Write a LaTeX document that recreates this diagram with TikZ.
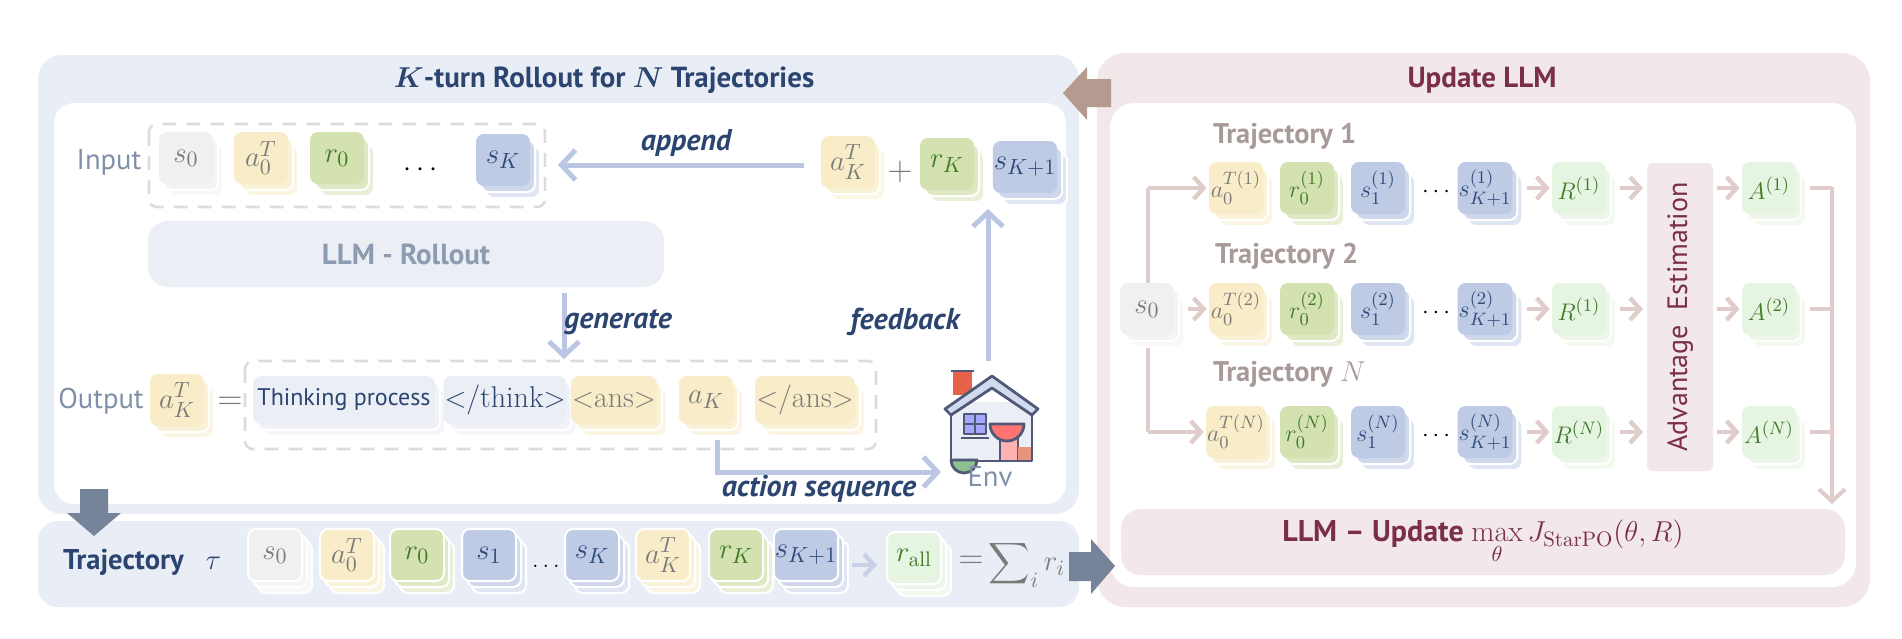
\documentclass[tikz,border=0pt]{standalone}
\usepackage{amsmath,bm}
\usepackage{fontspec}
\setsansfont{PT Sans}
\usetikzlibrary{calc,arrows.meta,shapes.geometric}
\definecolor{lpanel}{HTML}{E9EDF5}
\definecolor{rpanel}{HTML}{F2E8E9}
\definecolor{dblue}{HTML}{2B4570}
\definecolor{glabel}{HTML}{8090A8}
\definecolor{cy}{HTML}{F8EDC8}
\definecolor{cg}{HTML}{D3E2B0}
\definecolor{cb}{HTML}{BFCBE5}
\definecolor{cgr}{HTML}{F0F0F0}
\definecolor{clg}{HTML}{E6F4E2}
\definecolor{cbox}{HTML}{EBEEF5}
\definecolor{maroon}{HTML}{7A2E48}
\definecolor{tgray}{HTML}{A89A98}
\definecolor{rarrow}{HTML}{E0CCCA}
\definecolor{larrow}{HTML}{BAC6E2}
\definecolor{garrow}{HTML}{76849A}
\definecolor{barrow}{HTML}{B59A8F}
\definecolor{gtext}{HTML}{7A7A7A}
\definecolor{gntext}{HTML}{3F7A25}
\definecolor{bltext}{HTML}{2F4A7A}
\definecolor{hline}{HTML}{505A78}
\tikzset{
  tile/.style={rounded corners=4pt,minimum width=27pt,minimum height=26pt,inner sep=0.5pt,font=\fontsize{15}{17}\selectfont},
  rtile/.style={tile,font=\fontsize{13}{15}\selectfont},
  lab/.style={font=\sffamily\fontsize{14.3}{17}\selectfont},
  itl/.style={font=\sffamily\itshape\bfseries\fontsize{15}{18}\selectfont,text=dblue},
  larr/.style={draw=larrow,line width=2.5pt,-{Straight Barb[length=7pt,width=15pt,line width=2.5pt]}},
  rarr/.style={draw=rarrow,line width=2.2pt,-{Straight Barb[length=5pt,width=11pt,line width=2.2pt]}},
  rline/.style={draw=rarrow,line width=2pt},
  dashbox/.style={draw=lpanel!85!gray,line width=1.3pt,dash pattern=on 7pt off 5pt,rounded corners=4pt},
  hs/.style={draw=hline,line width=1.4pt,line join=round},
}
% #1 opts, #2 name, #3 position, #4 colour, #5 text
\newcommand\stk[5][]{%
  \node[tile,#1,fill=#4!50,draw=white,line width=1pt] at ($(#3)+(10,12)$) {\phantom{#5}};
  \node[tile,#1,fill=#4!75,draw=white,line width=1pt] at ($(#3)+(5,6)$) {\phantom{#5}};
  \node[tile,#1,fill=#4] (#2) at (#3) {#5};}
\begin{document}
\begin{tikzpicture}[x=0.5pt,y=-0.5pt]
\useasboundingbox (0,0) rectangle (1902,638);
% panels
\fill[lpanel,rounded corners=12pt] (38,55) rectangle (1079,514);
\fill[white,rounded corners=10pt] (54,103) rectangle (1066,504);
\fill[lpanel,rounded corners=10pt] (38,521) rectangle (1079,607);
\fill[rpanel,rounded corners=14pt] (1097,53) rectangle (1870,607);
\fill[white,rounded corners=12pt] (1110,103) rectangle (1856,587);
\node[font=\sffamily\bfseries\fontsize{14.5}{17}\selectfont,text=dblue] (t1) at (604,80) {$\bm{K}$-turn Rollout for $\bm{N}$ Trajectories};
\node[font=\sffamily\bfseries\fontsize{14.5}{17}\selectfont,text=maroon] (t2) at (1482,80) {Update LLM};
% block arrows
\fill[barrow] (1063,93) -- (1087,67) -- (1087,79) -- (1111,79) -- (1111,107) -- (1087,107) -- (1087,120) -- cycle;
\fill[garrow] (80,489) -- (108,489) -- (108,513) -- (121,513) -- (94,536) -- (67,513) -- (80,513) -- cycle;
\fill[garrow] (1069,552) -- (1091,552) -- (1091,539) -- (1115,566) -- (1091,594) -- (1091,581) -- (1069,581) -- cycle;
% input row
\node[lab,text=glabel] (inl) at (109,162) {Input};
\draw[dashbox] (149,124) rectangle (545,207);
\stk[text=gtext]{is0}{186,158}{cgr}{$s_0$}
\stk[text=gtext]{ia0}{261,158}{cy}{$a_0^T$}
\stk[text=gntext]{ir0}{337,158}{cg}{$r_0$}
\node[font=\fontsize{14}{16}\selectfont] (idots) at (423,170) {$\cdots$};
\stk[text=bltext]{isk}{503,160}{cb}{$s_K$}
\stk[text=gtext]{aKT}{848,162}{cy}{$a_K^T$}
\node[font=\fontsize{16}{18}\selectfont,text=gtext] (plus) at (900,172) {$+$};
\stk[text=gntext]{rK}{947,164}{cg}{$r_K$}
\stk[text=bltext]{sK1}{1025,167}{cb}{$s_{K+1}$}
\draw[larr] (804,165) coordinate (ap1) -- (558,165) coordinate (ap2);
\node[itl] (appl) at (686,143) {append};
% LLM rollout
\node[fill=cbox,rounded corners=10pt,minimum width=258pt,minimum height=33pt,font=\sffamily\bfseries\fontsize{14.5}{17}\selectfont,text=glabel!90] (roll) at (406,254) {LLM - Rollout};
\draw[larr] (564,293) coordinate (g1) -- (564,359) coordinate (g2);
\node[itl] (genl) at (618,322) {generate};
% output row
\node[lab,text=glabel] (outl) at (101,401) {Output};
\stk[text=gtext]{oaK}{177,400}{cy}{$a_K^T$}
\node[font=\fontsize{16}{18}\selectfont,text=gtext] (eq) at (230,403) {$=$};
\draw[dashbox] (245,361) rectangle (876,449);
\stk[text=dblue,font=\sffamily\fontsize{12}{14}\selectfont,minimum width=91pt,minimum height=24pt]{think}{344,400}{cbox}{Thinking process}
\stk[text=dblue,minimum width=52pt,minimum height=24pt]{ethink}{505,400}{cbox}{$<$/think$>$}
\stk[text=gtext,minimum width=38pt,minimum height=24pt]{ans}{614,400}{cy}{$<$ans$>$}
\stk[text=gtext,minimum height=24pt]{aK}{706,400}{cy}{$a_K$}
\stk[text=gtext,minimum width=50pt,minimum height=24pt]{eans}{805,400}{cy}{$<$/ans$>$}
% env house
\fill[red!55!brown!80] (953,371) rectangle (972,395);
\draw[hs] (951,371) -- (974,371);
\fill[cbox] (951,402) rectangle (1032,461);
\draw[hs] (951,410) -- (951,461) -- (1032,461) -- (1032,410);
\draw[hs,fill=cb!70] (945,409) -- (992,376) -- (1038,409) -- (1032,415) -- (992,388) -- (951,415) -- cycle;
\draw[hs,fill=blue!35] (964,414) rectangle (986,434);
\draw[hs] (975,414) -- (975,434) (964,424) -- (986,424);
\draw[hs] (961,438) -- (989,438);
\draw[hs,fill=red!30] (1000,429) rectangle (1018,461);
\draw[hs,fill=red!55] (990,424) arc (180:0:17) -- cycle;
\fill[red!40!brown!60] (1018,447) rectangle (1031,460);
\draw[hs,fill=green!45!black!45] (951,460) arc (180:0:13) -- cycle;
\node[lab,text=glabel] (env) at (990,477) {Env};
\draw[larr] (988,361) coordinate (f1) -- (988,209) coordinate (f2);
\node[itl] (fbl) at (905,322) {feedback};
\draw[larr] (717,440) coordinate (as1) -- (717,472) -- (941,472) coordinate (as2);
\node[itl] (asl) at (819,489) {action sequence};
% bottom trajectory row
\node[font=\sffamily\bfseries\fontsize{14.3}{17}\selectfont,text=dblue,anchor=west] (trl) at (56,562) {Trajectory~~~$\tau$};
\tikzset{bt/.style={draw=white,line width=1pt}}
\stk[bt,text=gtext]{b0}{275,555}{cgr}{$s_0$}
\stk[bt,text=gtext]{b1}{347,555}{cy}{$a_0^T$}
\stk[bt,text=gntext]{b2}{417,555}{cg}{$r_0$}
\stk[bt,text=bltext]{b3}{489,555}{cb}{$s_1$}
\node[font=\fontsize{12}{14}\selectfont] (bd) at (546,566) {$\ldots$};
\stk[bt,text=bltext]{b4}{592,555}{cb}{$s_K$}
\stk[bt,text=gtext]{b5}{663,555}{cy}{$a_K^T$}
\stk[bt,text=gntext]{b6}{736,555}{cg}{$r_K$}
\stk[bt,text=bltext]{b7}{806,555}{cb}{$s_{K+1}$}
\draw[draw=larrow!80,line width=2.2pt,-{Straight Barb[length=5pt,width=11pt,line width=2.2pt]}] (852,565) coordinate (ra1) -- (877,565) coordinate (ra2);
\stk[bt,text=gntext]{ball}{914,558}{clg}{$r_{\mathrm{all}}$}
\node[font=\fontsize{16}{18}\selectfont,text=gtext] (beq) at (971,562) {$=$};
\node[font=\fontsize{15}{17}\selectfont,text=gtext] (sum) at (1027,564) {$\displaystyle\sum\nolimits_i r_i$};
% right panel
\tikzset{tl/.style={font=\sffamily\bfseries\fontsize{14.2}{17}\selectfont,text=tgray,anchor=west}}
\node[tl] (tr1) at (1206,136) {Trajectory 1};
\node[tl] (tr2) at (1208,256) {Trajectory 2};
\node[tl] (trN) at (1206,374) {Trajectory $N$};
\node[fill=rpanel,rounded corners=3pt,minimum width=33pt,minimum height=154pt,font=\sffamily\fontsize{14}{16}\selectfont,text=maroon] (adv) at (1680,317) {\rotatebox{90}{Advantage~~Estimation}};
\stk[text=gtext]{s0r}{1147,309}{cgr}{$s_0$}
\foreach \r/\y/\k/\kr in {1/188/1/1,2/309/2/1,3/432/N/N}{
  \stk[rtile,text=gtext]{a\r}{1236,\y}{cy}{$a_0^{T(\k)}$}
  \stk[rtile,text=gntext]{r\r}{1307,\y}{cg}{$r_0^{(\k)}$}
  \stk[rtile,text=bltext]{s\r}{1378,\y}{cb}{$s_1^{(\k)}$}
  \node[font=\fontsize{13}{15}\selectfont] (d\r) at (1438,\y+4) {$\cdots$};
  \stk[rtile,text=bltext]{k\r}{1485,\y}{cb}{$s_{K+1}^{(\k)}$}
  \stk[rtile,text=gntext]{R\r}{1579,\y}{clg}{$R^{(\kr)}$}
  \stk[rtile,text=gntext]{A\r}{1769,\y}{clg}{$A^{(\k)}$}
}
\foreach \r/\y in {1/188,2/309,3/432}{
  \draw[rarr] ($(k\r.east)+(14,0)$) -- ($(R\r.west)+(-2,0)$);
  \draw[rarr] ($(R\r.east)+(14,0)$) -- (1643,\y);
  \draw[rarr] (1717,\y) -- ($(A\r.west)+(-2,0)$);
  \draw[rline] ($(A\r.east)+(14,0)$) -- (1832,\y);
}
\draw[rarr] ($(s0r.east)+(14,0)$) -- ($(a2.west)+(-2,0)$);
\draw[rline] (1148,283) -- (1148,188) coordinate (c1);
\draw[rarr] (c1) -- ($(a1.west)+(-2,0)$);
\draw[rline] (1148,348) -- (1148,432) coordinate (c3);
\draw[rarr] (c3) -- ($(a3.west)+(-2,0)$);
\draw[draw=rarrow,line width=2pt,-{Straight Barb[length=6pt,width=13pt,line width=2pt]}] (1832,187) -- (1832,504) coordinate (ce);
\node[fill=rpanel,rounded corners=10pt,minimum width=362pt,minimum height=33pt,font=\sffamily\bfseries\fontsize{15}{18}\selectfont,text=maroon] (upd) at (1483,542) {LLM -- Update $\max\limits_{\theta} J_{\mathrm{StarPO}}(\theta,R)$};
\end{tikzpicture}
\end{document}
